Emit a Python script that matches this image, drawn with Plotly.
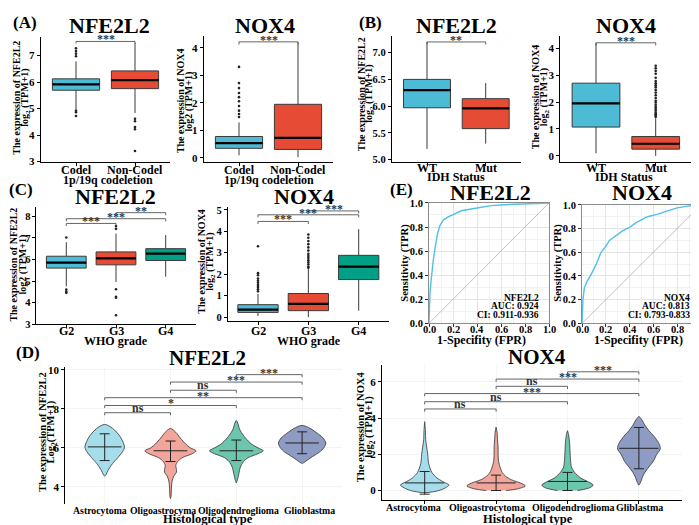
import plotly.graph_objects as go

W, H = 699, 525
FONT = "Liberation Serif"
BLUE, RED, GREEN = "#4DBBD5", "#E64B35", "#00A087"
V_COLS = ["#A6DDEA", "#F2A59A", "#6CC6AE", "#8E9BC2"]

# ---------------- data ----------------
# (A) 1p/19q codeletion
a_groups = ["Codel", "Non-Codel"]
a_nfe_q1, a_nfe_med, a_nfe_q3 = [5.69, 5.75], [5.91, 6.07], [6.12, 6.42]
a_nfe_lo, a_nfe_hi = [4.98, 4.83], [6.78, 7.48]
a_nfe_out = [[7.27, 7.17, 7.07, 6.97, 4.92, 4.86, 4.72], [4.61, 4.52, 4.3, 4.22, 3.4]]
a_nox_q1, a_nox_med, a_nox_q3 = [0.35, 0.31], [0.54, 0.73], [0.78, 1.95]
a_nox_lo, a_nox_hi = [0.1, 0.03], [1.29, 4.2]
a_nox_out = [[1.49, 1.6, 1.72, 1.89, 2.06, 2.21, 2.36, 2.54, 2.72, 3.31], []]

# (B) IDH status
b_groups = ["WT", "Mut"]
b_nfe_q1, b_nfe_med, b_nfe_q3 = [5.97, 5.58], [6.3, 5.96], [6.5, 6.14]
b_nfe_lo, b_nfe_hi = [5.2, 5.3], [7.2, 6.43]
b_nfe_out = [[], []]
b_nox_q1, b_nox_med, b_nox_q3 = [1.07, 0.25], [1.95, 0.45], [2.7, 0.72]
b_nox_lo, b_nox_hi = [0.1, 0.0], [4.2, 1.4]
b_nox_out = [[], [1.45, 1.5, 1.55, 1.6, 1.68, 1.75, 1.82, 1.9, 1.98, 2.05, 2.15, 2.25,
                  2.35, 2.45, 2.55, 2.62, 2.7, 2.78, 2.9, 3.05, 3.15, 3.25, 3.35]]

# (C) WHO grade
c_groups = ["G2", "G3", "G4"]
c_nfe_q1, c_nfe_med, c_nfe_q3 = [5.6, 5.75, 5.95], [5.85, 6.05, 6.27], [6.15, 6.35, 6.5]
c_nfe_lo, c_nfe_hi = [4.75, 4.95, 5.2], [6.8, 7.2, 7.13]
c_nfe_out = [[7.02, 4.6, 4.5, 4.45], [7.42, 7.55, 4.62, 4.27, 4.22, 3.41], []]
c_nox_q1, c_nox_med, c_nox_q3 = [0.22, 0.3, 1.75], [0.35, 0.62, 2.35], [0.58, 1.1, 2.88]
c_nox_lo, c_nox_hi = [0.05, 0.0, 0.3], [1.08, 2.25, 4.1]
c_nox_out = [[1.2, 1.3, 1.4, 1.5, 1.6, 1.7, 1.8, 1.95, 2.05, 3.3],
             [2.3, 2.35, 2.45, 2.55, 2.65, 2.75, 2.85, 2.95, 3.1, 3.25, 3.4, 3.55, 3.7, 3.85], []]

# (E) ROC curves
roc_ticks = [0.0, 0.2, 0.4, 0.6, 0.8, 1.0]
roc_nfe_fpr = [0, 0.003, 0.008, 0.015, 0.022, 0.035, 0.05, 0.07, 0.09, 0.12, 0.16, 0.21, 0.27, 0.35, 0.43, 0.52, 0.62, 0.72, 0.86, 1.0]
roc_nfe_tpr = [0, 0.12, 0.25, 0.33, 0.42, 0.52, 0.62, 0.74, 0.81, 0.86, 0.885, 0.91, 0.935, 0.95, 0.965, 0.978, 0.985, 0.99, 0.998, 1.0]
roc_nox_fpr = [0, 0.003, 0.008, 0.02, 0.04, 0.08, 0.12, 0.16, 0.2, 0.23, 0.28, 0.34, 0.4, 0.455, 0.55, 0.63, 0.72, 0.8, 0.89, 0.95, 1.0]
roc_nox_tpr = [0, 0.1, 0.2, 0.3, 0.35, 0.42, 0.5, 0.6, 0.65, 0.7, 0.74, 0.78, 0.81, 0.85, 0.9, 0.92, 0.95, 0.975, 0.99, 0.998, 1.0]
diag = [0, 1]
auc_lines = [["NFE2L2", "AUC: 0.924", "CI: 0.911-0.936"], ["NOX4", "AUC: 0.813", "CI: 0.793-0.833"]]

# (D) histological type - violin density profiles (value, half-width)
d_groups_nfe = ["Astrocytoma", "Oligoastrocyma", "Oligodendroglioma", "Glioblastma"]
d_groups_nox = ["Astrocytoma", "Oligoastrocytoma", "Oligodendroglioma", "Gliblastma"]
d_nfe_y = [
    [7.2, 7.0, 6.6, 6.2, 6.0, 5.8, 5.5, 5.2, 4.9, 4.6, 4.55],
    [7.0, 6.8, 6.5, 6.2, 6.0, 5.85, 5.7, 5.5, 5.3, 5.1, 4.9, 4.75, 4.55, 4.3, 4.0, 3.5, 3.4],
    [7.4, 7.2, 7.0, 6.8, 6.5, 6.2, 6.0, 5.85, 5.7, 5.5, 5.3, 5.0, 4.7, 4.4, 4.2],
    [7.15, 7.0, 6.8, 6.5, 6.25, 6.0, 5.8, 5.6, 5.4, 5.25, 5.2],
]
d_nfe_w = [
    [0, 0.12, 0.23, 0.29, 0.30, 0.27, 0.20, 0.12, 0.06, 0.015, 0],
    [0, 0.08, 0.15, 0.23, 0.30, 0.39, 0.33, 0.18, 0.11, 0.08, 0.09, 0.09, 0.05, 0.025, 0.015, 0.008, 0],
    [0, 0.03, 0.045, 0.075, 0.14, 0.23, 0.33, 0.41, 0.33, 0.18, 0.11, 0.06, 0.04, 0.02, 0],
    [0, 0.12, 0.21, 0.32, 0.36, 0.33, 0.27, 0.18, 0.09, 0.03, 0],
]
d_nfe_mean = [6.05, 5.85, 5.85, 6.25]
d_nfe_lo = [5.35, 5.3, 5.35, 5.7]
d_nfe_hi = [6.72, 6.35, 6.4, 6.82]
d_nox_y = [
    [-0.12, 0, 0.15, 0.3, 0.5, 0.7, 1.0, 1.5, 2.0, 2.4, 2.8, 3.3, 3.8],
    [0, 0.1, 0.25, 0.4, 0.6, 0.8, 1.0, 1.3, 1.6, 2.0, 2.4, 2.8, 3.2, 3.5],
    [0, 0.15, 0.3, 0.5, 0.7, 1.0, 1.3, 1.7, 2.2, 2.7, 3.1, 3.3],
    [0.3, 0.5, 0.8, 1.0, 1.3, 1.6, 2.0, 2.3, 2.6, 3.0, 3.3, 3.6, 3.9, 4.1],
]
d_nox_w = [
    [0, 0.2, 0.29, 0.34, 0.25, 0.17, 0.1, 0.055, 0.042, 0.028, 0.014, 0.01, 0],
    [0.14, 0.31, 0.41, 0.35, 0.21, 0.13, 0.085, 0.055, 0.035, 0.028, 0.028, 0.02, 0.014, 0],
    [0.14, 0.31, 0.36, 0.28, 0.18, 0.1, 0.055, 0.042, 0.035, 0.028, 0.014, 0],
    [0, 0.028, 0.056, 0.084, 0.14, 0.2, 0.25, 0.3, 0.28, 0.21, 0.14, 0.084, 0.042, 0],
]
d_nox_mean = [0.42, 0.42, 0.5, 2.33]
d_nox_lo = [-0.2, 0.0, 0.0, 1.2]
d_nox_hi = [1.05, 0.85, 1.0, 3.48]

# significance brackets: (group a, group b, height, label)
br_a_nfe = [(0, 1, 7.53, "***")]
br_a_nox = [(0, 1, 4.22, "***")]
br_b_nfe = [(0, 1, 7.2, "**")]
br_b_nox = [(0, 1, 4.2, "***")]
br_c_nfe = [(0, 1, 7.67, "***"), (0, 2, 7.89, "***"), (1, 2, 8.17, "**")]
br_c_nox = [(0, 1, 4.46, "***"), (0, 2, 4.77, "***"), (1, 2, 4.95, "***")]
br_d_nfe = [(0, 1, 7.8, "ns"), (0, 2, 8.17, "*"), (0, 3, 8.57, "**"),
            (1, 2, 8.95, "ns"), (1, 3, 9.37, "***"), (2, 3, 9.75, "***")]
br_d_nox = [(0, 1, 4.5, "ns"), (0, 2, 4.9, "ns"), (0, 3, 5.35, "***"),
            (1, 2, 5.75, "ns"), (1, 3, 6.15, "***"), (2, 3, 6.55, "***")]

# ---------------- figure ----------------
fig = go.Figure()
layout = dict(width=W, height=H, margin=dict(l=0, r=0, t=0, b=0), autosize=False,
              paper_bgcolor="white", plot_bgcolor="white", showlegend=False,
              font=dict(family=FONT, color="black"))
annotations = []


def xn(i):
    return "x" if i == 1 else "x%d" % i


def yn(i):
    return "y" if i == 1 else "y%d" % i


def px_x(a, b):
    return [a / W, b / W]


def px_y(top, bottom):
    return [1 - bottom / H, 1 - top / H]


def bold(t):
    return "<b>%s</b>" % t


def ann(text, x, y, size, angle=0, xanchor="center"):
    annotations.append(dict(text=bold(text), x=x / W, y=1 - y / H, xref="paper", yref="paper",
                            showarrow=False, textangle=angle, xanchor=xanchor, yanchor="middle",
                            font=dict(family=FONT, size=size, color="black")))


def xlabels(i, vals, texts, ypx, size, shifts=None):
    shifts = shifts or [0] * len(vals)
    for v, t, s in zip(vals, texts, shifts):
        annotations.append(dict(text=bold(t), x=v, y=1 - ypx / H, xref=xn(i), yref="paper",
                                showarrow=False, xanchor="center", yanchor="middle", xshift=s,
                                font=dict(family=FONT, size=size, color="black")))


def axes(i, xdom, ydom, xrange, yrange, xticks, yticks, xline=True, roc=False, grid=False,
         ytickformat=None, ytfs=11):
    xa = dict(domain=xdom, range=xrange, anchor=yn(i), tickvals=xticks, zeroline=False,
              showticklabels=False, fixedrange=True)
    ya = dict(domain=ydom, range=yrange, anchor=xn(i), tickvals=yticks, zeroline=False,
              tickfont=dict(family=FONT, size=ytfs, color="black", weight="bold"), fixedrange=True)
    if ytickformat:
        ya["tickformat"] = ytickformat
    if roc:
        for a in (xa, ya):
            a.update(showline=True, mirror=True, linecolor="#8c8c8c", linewidth=1,
                     showgrid=True, gridcolor="#e4e4e4", gridwidth=1, ticks="outside",
                     ticklen=3, tickcolor="#333", tickformat=".1f",
                     minor=dict(dtick=0.1, showgrid=True, gridcolor="#f2f2f2", gridwidth=0.6))
    else:
        xa.update(showline=xline, linecolor="black", linewidth=1, ticks="outside" if xline else "",
                  ticklen=3, tickcolor="black", showgrid=grid, gridcolor="#f4f4f4")
        ya.update(showline=True, linecolor="black", linewidth=1, ticks="outside",
                  ticklen=3, tickcolor="black", showgrid=grid, gridcolor="#f4f4f4")
    layout["xaxis%d" % i] = xa
    layout["yaxis%d" % i] = ya


def brackets(i, specs, tip, fs=12):
    for (ga, gb, h, lab) in specs:
        fig.add_trace(go.Scatter(x=[ga, ga, gb, gb], y=[h - tip, h, h, h - tip], mode="lines",
                                 line=dict(color="#555555", width=0.9), xaxis=xn(i), yaxis=yn(i),
                                 hoverinfo="skip"))
        is_star = "*" in lab
        annotations.append(dict(text=bold(lab), x=(ga + gb) / 2, y=h, xref=xn(i), yref=yn(i),
                                showarrow=False, xanchor="center", yanchor="middle",
                                yshift=2 if is_star else 5,
                                font=dict(family=FONT, size=fs, color="#333")))


def boxes(i, q1, med, q3, lo, hi, outs, colors):
    for k in range(len(q1)):
        fig.add_trace(go.Box(x=[k], q1=[q1[k]], median=[med[k]], q3=[q3[k]], lowerfence=[lo[k]],
                             upperfence=[hi[k]], fillcolor=colors[k], width=0.8, whiskerwidth=0,
                             line=dict(color="#3a3a3a", width=1), boxpoints=False,
                             xaxis=xn(i), yaxis=yn(i), hoverinfo="skip"))
        fig.add_trace(go.Scatter(x=[k - 0.4, k + 0.4], y=[med[k], med[k]], mode="lines",
                                 line=dict(color="black", width=2.2), xaxis=xn(i), yaxis=yn(i),
                                 hoverinfo="skip"))
        if outs[k]:
            fig.add_trace(go.Scatter(x=[k] * len(outs[k]), y=outs[k], mode="markers",
                                     marker=dict(color="#222", size=2.6), xaxis=xn(i),
                                     yaxis=yn(i), hoverinfo="skip"))


def violins(i, ys, ws, means, los, his, crossw):
    for k in range(len(ys)):
        y = ys[k]
        w = ws[k]
        xs = [k + v for v in w] + [k - v for v in reversed(w)]
        yy = list(y) + list(reversed(y))
        fig.add_trace(go.Scatter(x=xs, y=yy, mode="lines", fill="toself", fillcolor=V_COLS[k],
                                 line=dict(color="#333", width=0.8, shape="spline", smoothing=0.8),
                                 xaxis=xn(i), yaxis=yn(i), hoverinfo="skip"))
        fig.add_trace(go.Scatter(x=[k], y=[means[k]], mode="markers",
                                 marker=dict(symbol="line-ew-open", size=crossw, color="#222",
                                             line=dict(color="#222", width=1)),
                                 error_y=dict(type="data", symmetric=False, array=[his[k] - means[k]],
                                              arrayminus=[means[k] - los[k]], width=5, thickness=1,
                                              color="#222"),
                                 xaxis=xn(i), yaxis=yn(i), hoverinfo="skip"))


def xdom_from(c0, s, n):
    return px_x(c0 - 0.6 * s, c0 + (n - 1) * s + 0.6 * s)


# Panel A
axes(1, xdom_from(68, 59, 2), px_y(25, 152), [-0.6, 1.6], [2.99, 7.68], [0, 1], [3, 4, 5, 6, 7])
boxes(1, a_nfe_q1, a_nfe_med, a_nfe_q3, a_nfe_lo, a_nfe_hi, a_nfe_out, [BLUE, RED])
brackets(1, br_a_nfe, 0.08)
xlabels(1, [0, 1], a_groups, 160, 12)
axes(2, xdom_from(231, 59, 2), px_y(23, 152), [-0.6, 1.6], [-0.14, 4.45], [0, 1], [0, 1, 2, 3, 4])
boxes(2, a_nox_q1, a_nox_med, a_nox_q3, a_nox_lo, a_nox_hi, a_nox_out, [BLUE, RED])
brackets(2, br_a_nox, 0.1)
xlabels(2, [0, 1], a_groups, 160, 12)

# Panel B
axes(3, xdom_from(419, 58.7, 2), px_y(23, 152), [-0.6, 1.6], [4.96, 7.32], [0, 1],
     [5.0, 5.5, 6.0, 6.5, 7.0], ytickformat=".1f", ytfs=10.5)
boxes(3, b_nfe_q1, b_nfe_med, b_nfe_q3, b_nfe_lo, b_nfe_hi, b_nfe_out, [BLUE, RED])
brackets(3, br_b_nfe, 0.05)
xlabels(3, [0, 1], b_groups, 158, 12)
axes(4, xdom_from(588, 59.7, 2), px_y(23, 152), [-0.6, 1.6], [-0.22, 4.47], [0, 1], [0, 1, 2, 3, 4])
boxes(4, b_nox_q1, b_nox_med, b_nox_q3, b_nox_lo, b_nox_hi, b_nox_out, [BLUE, RED])
brackets(4, br_b_nox, 0.1)
xlabels(4, [0, 1], b_groups, 158, 12)

# Panel C
axes(5, xdom_from(58.3, 49.7, 3), px_y(198, 318), [-0.6, 2.6], [2.99, 8.44], [0, 1, 2],
     [3, 4, 5, 6, 7, 8], ytfs=10.5)
boxes(5, c_nfe_q1, c_nfe_med, c_nfe_q3, c_nfe_lo, c_nfe_hi, c_nfe_out, [BLUE, RED, GREEN])
brackets(5, br_c_nfe, 0.12)
xlabels(5, [0, 1, 2], c_groups, 325, 12)
axes(6, xdom_from(250, 50.35, 3), px_y(198, 315), [-0.6, 2.6], [-0.2, 5.14], [0, 1, 2],
     [0, 1, 2, 3, 4, 5], ytfs=10.5)
boxes(6, c_nox_q1, c_nox_med, c_nox_q3, c_nox_lo, c_nox_hi, c_nox_out, [BLUE, RED, GREEN])
brackets(6, br_c_nox, 0.12)
xlabels(6, [0, 1, 2], c_groups, 325, 12)

# Panel E
axes(7, px_x(421, 541), px_y(194, 317), [0, 1], [0, 1], roc_ticks, roc_ticks, roc=True, ytfs=10.5)
axes(8, px_x(574, 693), px_y(196, 317), [0, 1], [0, 1], roc_ticks, roc_ticks, roc=True, ytfs=10.5)
for i, (fx, ty) in zip((7, 8), ((roc_nfe_fpr, roc_nfe_tpr), (roc_nox_fpr, roc_nox_tpr))):
    fig.add_trace(go.Scatter(x=diag, y=diag, mode="lines", line=dict(color="#b8b8b8", width=0.9),
                             xaxis=xn(i), yaxis=yn(i), hoverinfo="skip"))
    fig.add_trace(go.Scatter(x=fx, y=ty, mode="lines", line=dict(color="#4FC0E8", width=1.4),
                             xaxis=xn(i), yaxis=yn(i), hoverinfo="skip", cliponaxis=False))
    xlabels(i, roc_ticks, ["%.1f" % v for v in roc_ticks], 323, 10.5,
            shifts=[0, 0, 0, 0, 0, -3 if i == 8 else 0])

# Panel D
axes(9, xdom_from(96.7, 65.8, 4), px_y(362, 502), [-0.6, 3.6], [3.1, 10.12], [0, 1, 2, 3],
     [4, 6, 8, 10], xline=False, grid=True, ytfs=11)
violins(9, d_nfe_y, d_nfe_w, d_nfe_mean, d_nfe_lo, d_nfe_hi, 24)
brackets(9, br_d_nfe, 0.13)
xlabels(9, [0, 1, 2, 3], d_groups_nfe, 508, 9.8, shifts=[-5, -8, 2, 7])
axes(10, xdom_from(416.7, 71.4, 4), px_y(360, 497), [-0.6, 3.6], [-0.5, 6.9], [0, 1, 2, 3],
     [0, 2, 4, 6], grid=True, ytfs=11)
violins(10, d_nox_y, d_nox_w, d_nox_mean, d_nox_lo, d_nox_hi, 28)
brackets(10, br_d_nox, 0.15)
xlabels(10, [0, 1, 2, 3], d_groups_nox, 505, 10, shifts=[-11, -9, 6, 1])

# ---------------- text ----------------
ann("(A)", 17, 10, 17)
ann("(B)", 362, 10, 17)
ann("(C)", 13, 180, 17)
ann("(E)", 393, 180, 17)
ann("(D)", 20, 347, 17)
for t, x, y, s in [("NFE2L2", 101, 13, 22), ("NOX4", 257, 13, 22), ("NFE2L2", 449, 13, 22),
                   ("NOX4", 618, 13, 22), ("NFE2L2", 107, 187, 22), ("NOX4", 296, 187, 22),
                   ("NFE2L2", 482, 183, 22), ("NOX4", 634, 183, 22), ("NFE2L2", 199, 352, 21),
                   ("NOX4", 529, 351, 21)]:
    ann(t, x, y, s)
# y axis titles (two lines each)
for l1, l2, x1, x2, y, s in [
        ("The expression of NFE2L2", "log<sub>2</sub> (TPM+1)", 8.5, 17.5, 87, 10),
        ("The expression of NOX4", "log2 (TPM+1)", 172, 181.5, 90, 10),
        ("The expression of NFE2L2", "log<sub>2</sub> (TPM+1)", 353, 361.5, 83, 10),
        ("The expression of NOX4", "log<sub>2</sub> (TPM+1)", 527, 536, 86, 10),
        ("The expression of NFE2L2", "log2 (TPM+1)", 6, 15, 257, 10),
        ("The expression of NOX4", "log<sub>2</sub> (TPM+1)", 194, 203, 254, 10),
        ("The expression of NFE2L2", "Log<sub>2</sub>(TPM+1)", 34, 43.5, 428, 10.5),
        ("The expression of NOX4", "log<sub>2</sub> (TPM+1)", 352, 361.5, 423, 10.5)]:
    ann(l1, x1, y, s, angle=-90)
    ann(l2, x2, y, s, angle=-90)
ann("Sensitivity (TPR)", 397, 255, 10.5, angle=-90)
ann("Sensitivity (TPR)", 550, 255, 10.5, angle=-90)
# x axis titles
for t, x, y, s in [("1p/19q codeletion", 100, 171, 12), ("1p/19q codeletion", 261, 171, 12),
                   ("IDH Status", 448, 167, 12), ("IDH Status", 616, 167, 12),
                   ("WHO grade", 108, 335, 12), ("WHO grade", 301, 335, 12),
                   ("1-Specifity (FPR)", 473, 334, 12), ("1-Specifity (FPR)", 630, 334, 12),
                   ("Histological type", 200, 517, 12.5), ("Histological type", 520, 517, 12.5)]:
    ann(t, x, y, s)
# AUC texts, right aligned
for lines, xr in zip(auc_lines, (533, 684)):
    for j, line in enumerate(lines):
        ann(line, xr, 291 + 8.5 * j, 9.5, xanchor="right")

layout["annotations"] = annotations
fig.update_layout(**layout)
fig.write_html("out.html")
